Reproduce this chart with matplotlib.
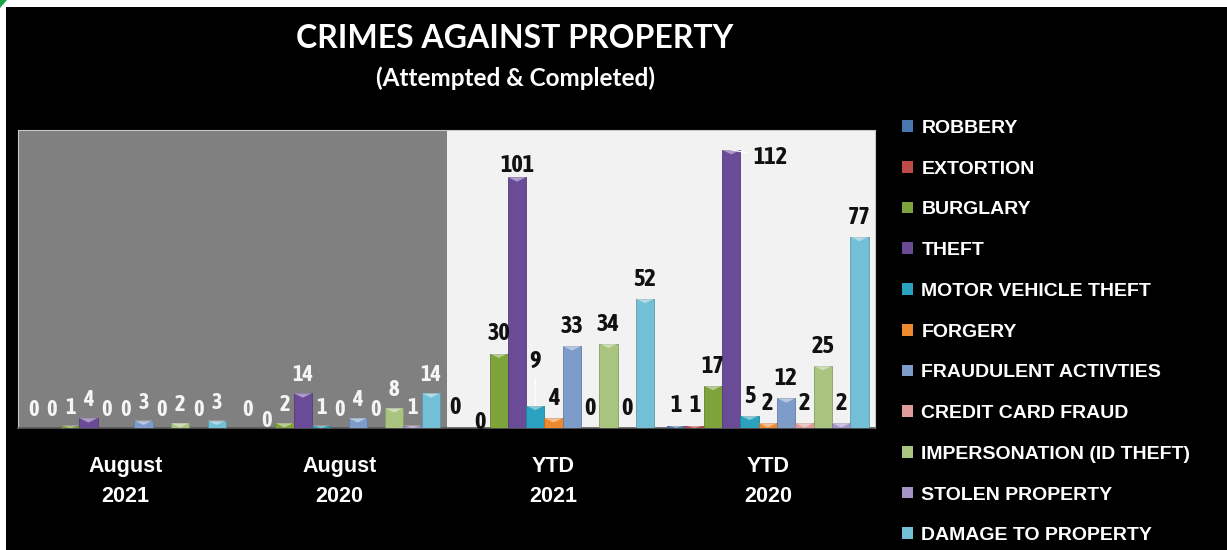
import matplotlib
matplotlib.use("Agg")
import matplotlib.pyplot as plt
import matplotlib.colors as mcolors
import numpy as np
from matplotlib.patches import Rectangle, Polygon

# ---------------- data ----------------
categories = ["August\n2021", "August\n2020", "YTD\n2021", "YTD\n2020"]
series = ["ROBBERY", "EXTORTION", "BURGLARY", "THEFT", "MOTOR VEHICLE THEFT",
          "FORGERY", "FRAUDULENT ACTIVTIES", "CREDIT CARD FRAUD",
          "IMPERSONATION (ID THEFT)", "STOLEN PROPERTY", "DAMAGE TO PROPERTY"]
robbery = [0, 0, 0, 1]
extortion = [0, 0, 0, 1]
burglary = [1, 2, 30, 17]
theft = [4, 14, 101, 112]
motor_vehicle_theft = [0, 1, 9, 5]
forgery = [0, 0, 4, 2]
fraudulent_activities = [3, 4, 33, 12]
credit_card_fraud = [0, 0, 0, 2]
impersonation = [2, 8, 34, 25]
stolen_property = [0, 1, 0, 2]
damage_to_property = [3, 14, 52, 77]

values = [robbery, extortion, burglary, theft, motor_vehicle_theft, forgery,
          fraudulent_activities, credit_card_fraud, impersonation,
          stolen_property, damage_to_property]

colors = ["#4a76b0", "#be4b48", "#7ea33a", "#6a4b98", "#2ba2bf", "#ee8a2e",
          "#7d9cca", "#e09c9a", "#a9c47f", "#a593c6", "#72bfd6"]

label_font = dict(family=["Asap Condensed", "DejaVu Sans"], stretch="condensed",
                  weight="bold")

# ---------------- figure ----------------
W, H = 1227, 550
fig = plt.figure(figsize=(W / 100, H / 100), dpi=100, facecolor="black")
fig.patches.append(Rectangle((0, 1 - 7 / H), 1, 7 / H, transform=fig.transFigure,
                             facecolor="white", edgecolor="none", zorder=5))
fig.patches.append(Rectangle((0, 0), 6 / W, 1, transform=fig.transFigure,
                             facecolor="white", edgecolor="none", zorder=5))
fig.patches.append(Polygon([(0, 1), (7 / W, 1), (0, 1 - 8 / H)], closed=True,
                           transform=fig.transFigure, facecolor="#1ea34a",
                           edgecolor="none", zorder=6))

ax = fig.add_axes([18 / W, 122 / H, 857 / W, 298 / H])
ax.set_xlim(-0.5, 3.5)
ax.set_ylim(0, 120)
ax.set_facecolor("#f2f2f2")
ax.axvspan(-0.5, 1.5, color="#808080", zorder=0, lw=0)

n = len(series)
w = 0.94 / n
x = np.arange(len(categories))

nudges = {(1, 1): (0, 1.0), (2, 0): (-5, 10), (2, 1): (0, -1), (2, 3): (0, 4),
          (2, 4): (0, 27), (3, 3): (28, -10)}
leaders = {(2, 4), (3, 3)}


def shade(c, f):
    r, g, b = mcolors.to_rgb(c)
    return (r * f, g * f, b * f)


handles = []
for i, (name, vals, c) in enumerate(zip(series, values, colors)):
    xs = x + (i - (n - 1) / 2) * w
    bars = ax.bar(xs, vals, width=w, color=c, edgecolor=shade(c, 0.8), linewidth=0.6,
                  zorder=3, label=name)
    # bevel highlight on top of each bar (3-D look of the original)
    for b in bars:
        h = b.get_height()
        if h <= 0:
            continue
        th = min(1.8, h)
        x0, bw = b.get_x(), b.get_width()
        ax.fill([x0, x0 + bw, x0 + bw / 2], [h, h, h - th], color="white",
                alpha=0.45, lw=0, zorder=4)
    handles.append(Rectangle((0, 0), 1, 1, facecolor=c, edgecolor="none"))
    for j, (xx, v) in enumerate(zip(xs, vals)):
        gray = j < 2
        default = (0, 8.5) if gray else (0, 9.4)
        dx, dy = nudges.get((j, i), default)
        kw = {}
        if (j, i) in leaders:
            kw["arrowprops"] = dict(arrowstyle="-", color="white", lw=0.8,
                                    shrinkA=2, shrinkB=0)
        ax.annotate(str(v), xy=(xx, v), xytext=(dx, dy), textcoords="offset points",
                    ha="center", va="baseline",
                    fontsize=16 if gray else 17.5,
                    color="#f5f5f5" if gray else "#111111",
                    zorder=5, **label_font, **kw)

ax.set_xticks(x)
ax.set_xticklabels(categories, color="white", fontsize=15.5, fontweight="bold",
                   family=["Liberation Sans", "DejaVu Sans"], linespacing=1.6)
ax.tick_params(axis="x", length=0, pad=20)
ax.set_yticks([])
for s in ["left", "right", "top"]:
    ax.spines[s].set_color("#c8c8c8")
    ax.spines[s].set_linewidth(0.8)
ax.spines["bottom"].set_color("#5a5a5a")
ax.spines["bottom"].set_linewidth(1.2)

fig.legend(handles, series, loc="upper left",
           bbox_to_anchor=(902 / W, 1 - 120 / H), frameon=False,
           prop=dict(family=["Liberation Sans", "DejaVu Sans"], weight="bold", size=14),
           labelcolor="white", handlelength=0.55, handleheight=0.55,
           handletextpad=0.45, labelspacing=1.22, borderaxespad=0, borderpad=0)

fig.text(515 / W, 1 - 39 / H, "CRIMES AGAINST PROPERTY", ha="center", va="center",
         color="white", fontsize=23, fontweight="bold", family=["Lato", "DejaVu Sans"])
fig.text(515 / W, 1 - 78 / H, "(Attempted & Completed)", ha="center", va="center",
         color="white", fontsize=17.5, fontweight="bold", family=["Lato", "DejaVu Sans"])

fig.savefig("out.png", dpi=100, facecolor=fig.get_facecolor())
